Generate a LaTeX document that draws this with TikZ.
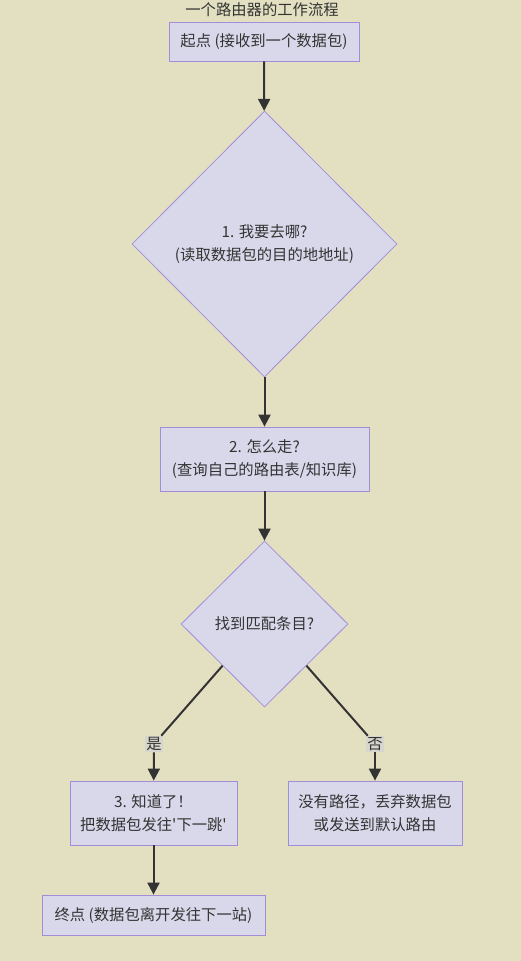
\documentclass[tikz,border=0pt]{standalone}
\usepackage{fontspec}
\setmainfont{Noto Sans CJK SC}
\newfontfamily\plainfont{Noto Sans CJK SC}
\usetikzlibrary{shapes.geometric,arrows.meta,positioning}
\definecolor{bgcol}{HTML}{E2E0C1}
\definecolor{nodefill}{HTML}{D9D8EB}
\definecolor{nodeline}{HTML}{A28ED8}
\definecolor{inkcol}{HTML}{333333}
\definecolor{labelfill}{HTML}{D6D6CC}
\newcommand{\sq}{{\plainfont\symbol{39}}}
\tikzset{
  flowbox/.style={draw=nodeline,fill=nodefill,line width=0.6pt,align=center,
    inner sep=0pt,text=inkcol,font=\fontsize{11.5}{17}\selectfont},
  choice/.style={flowbox,diamond,aspect=1},
  edgelabel/.style={fill=labelfill,inner sep=1pt,text=inkcol,font=\fontsize{11.5}{14}\selectfont},
  flow/.style={draw=inkcol,line width=1.5pt},
  flowarrow/.style={flow,-{Triangle[length=9pt,width=9pt]}}
}
\begin{document}
\begin{tikzpicture}[x=0.75pt,y=-0.75pt]
  \fill[bgcol] (0,0) rectangle (521,961);
  \useasboundingbox (0,0) rectangle (521,961);
  % title and nodes
  \node[text=inkcol,font=\fontsize{11.5}{14}\selectfont] (title) at (262,10) {一个路由器的工作流程};
  \node[flowbox,minimum width=142.5pt,minimum height=29.25pt] (start) at (264,41.5) {起点 (接收到一个数据包)};
  \node[choice,minimum width=198.75pt,minimum height=199.5pt] (where) at (264.5,244) {1. 我要去哪?\\(读取数据包的目的地地址)};
  \node[flowbox,minimum width=156.75pt,minimum height=48pt] (how) at (264.5,459) {2. 怎么走?\\(查询自己的路由表/知识库)};
  \node[choice,minimum width=125.25pt,minimum height=124.5pt] (match) at (264.5,624) {找到匹配条目?};
  \node[edgelabel] (yes) at (154,744) {是};
  \node[edgelabel] (no) at (375,744) {否};
  \node[flowbox,minimum width=125.25pt,minimum height=48pt] (send) at (153.5,813) {3. 知道了！\\把数据包发往\sq 下一跳\sq};
  \node[flowbox,minimum width=130.5pt,minimum height=48pt] (drop) at (375,813) {没有路径，丢弃数据包\\或发送到默认路由};
  \node[flowbox,minimum width=167.25pt,minimum height=30pt] (finish) at (153.5,915) {终点 (数据包离开发往下一站)};
  % connectors
  \draw[flowarrow] (start) -- (where);
  \draw[flowarrow] (where) -- (how);
  \draw[flowarrow] (how) -- (match);
  \draw[flow] (match.south west) -- (yes);
  \draw[flowarrow] (yes) -- (send);
  \draw[flow] (match.south east) -- (no);
  \draw[flowarrow] (no) -- (drop);
  \draw[flowarrow] (send) -- (finish);
\end{tikzpicture}
\end{document}
